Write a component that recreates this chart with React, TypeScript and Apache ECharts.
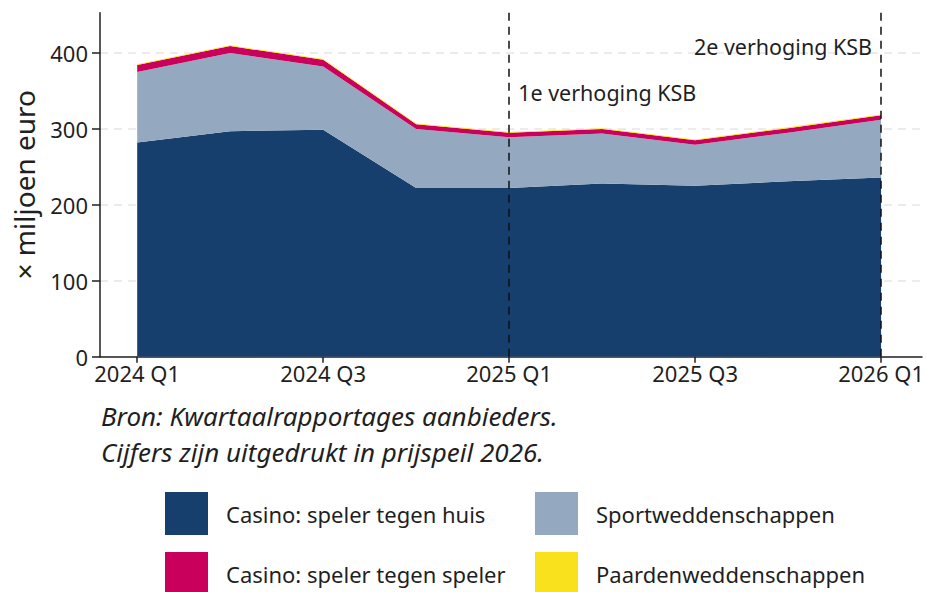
import React, { useEffect, useRef } from "react";
import * as echarts from "echarts";

const quarters = ["2024 Q1", "2024 Q2", "2024 Q3", "2024 Q4", "2025 Q1", "2025 Q2", "2025 Q3", "2025 Q4", "2026 Q1"];
const casinoHuis = [282, 297, 299, 222, 222, 228, 225, 231, 236];
const sportweddenschappen = [93, 103, 83, 78, 67, 66, 54, 64, 76];
const casinoSpeler = [9, 9, 9, 6, 6, 6, 6, 6, 6];
const paardenweddenschappen = [1, 1, 1, 1, 1, 1, 1, 1, 1];
const labelledQuarters = [0, 2, 4, 6, 8];
const yTicks = [0, 100, 200, 300, 400];
const annotations = [
  { name: "1e verhoging KSB", x: 4, y: 348, side: "right" },
  { name: "2e verhoging KSB", x: 8, y: 409, side: "left" },
];
const seriesNames = [
  "Casino: speler tegen huis",
  "Sportweddenschappen",
  "Casino: speler tegen speler",
  "Paardenweddenschappen",
];
const colors = ["#173f6e", "#94a9c0", "#ca005d", "#f9e11e"];
const sourceLines = ["Bron: Kwartaalrapportages aanbieders.", "Cijfers zijn uitgedrukt in prijspeil 2026."];

const FONT = "'Noto Sans', sans-serif";
const TXT = "#1f1f1f";

export default function App() {
  const ref = useRef<HTMLDivElement>(null);
  useEffect(() => {
    if (!ref.current) return;
    const chart = echarts.init(ref.current, undefined, { renderer: "svg" });
    const values = [casinoHuis, sportweddenschappen, casinoSpeler, paardenweddenschappen];
    const series: any[] = values.map((arr, k) => ({
      name: seriesNames[k],
      type: "line",
      stack: "total",
      symbol: "none",
      lineStyle: { width: 0 },
      areaStyle: { color: colors[k], opacity: 1 },
      itemStyle: { color: colors[k] },
      encode: { x: 1, y: 0 },
      data: arr.map((v, i) => [v, i]),
      z: 2,
    }));
    series.push({
      name: "annot",
      type: "line",
      data: [],
      markLine: {
        silent: true,
        symbol: ["none", "none"],
        label: { show: false },
        lineStyle: { color: "#111", width: 1.5, type: [8, 6] },
        data: annotations.map((a) => ({ xAxis: a.x })),
      },
      markPoint: {
        silent: true,
        symbol: "circle",
        symbolSize: 0,
        data: annotations.map((a) => ({
          coord: [a.x, a.y],
          label: {
            show: true,
            position: a.side,
            distance: 9,
            formatter: a.name,
            fontSize: 21.5,
            fontFamily: FONT,
            color: TXT,
          },
        })),
      },
      z: 5,
    });
    const legendBase = {
      orient: "vertical",
      top: 492,
      height: 200,
      padding: 0,
      itemWidth: 43,
      itemHeight: 43,
      itemGap: 17,
      icon: "rect",
      selectedMode: false,
      textStyle: { fontSize: 22, fontFamily: FONT, color: TXT, padding: [0, 0, 0, 13] },
    };
    chart.setOption({
      animation: false,
      backgroundColor: "#fff",
      grid: { left: 100, top: 12.7, right: 4, bottom: 235.3 },
      xAxis: {
        type: "value",
        min: -0.4,
        max: 8.44,
        splitLine: { show: false },
        axisLine: { onZero: false, lineStyle: { color: "#1f1f1f", width: 1.5 } },
        axisTick: { show: true, customValues: labelledQuarters, length: 6, lineStyle: { color: "#1f1f1f", width: 1.5 } },
        axisLabel: {
          customValues: labelledQuarters,
          formatter: (v: number) => quarters[Math.round(v)] ?? "",
          fontSize: 22,
          fontFamily: FONT,
          color: TXT,
          margin: 5,
        },
      },
      yAxis: {
        type: "value",
        min: 0,
        max: 453,
        interval: 100,
        name: "× miljoen euro",
        nameLocation: "middle",
        nameRotate: 90,
        nameGap: 62,
        nameTextStyle: { fontSize: 28, fontFamily: FONT, color: TXT },
        axisLine: { show: true, onZero: false, lineStyle: { color: "#1f1f1f", width: 1.5 } },
        axisTick: { show: true, customValues: yTicks, length: 8, lineStyle: { color: "#1f1f1f", width: 1.5 } },
        axisLabel: {
          customValues: yTicks,
          fontSize: 22,
          fontFamily: FONT,
          color: TXT,
          margin: 12,
        },
        splitLine: {
          show: true,
          lineStyle: {
            color: ["transparent", "#e6e6e6", "#e6e6e6", "#e6e6e6", "#e6e6e6", "transparent"],
            type: [8, 6],
            width: 1.5,
          },
        },
      },
      legend: [
        { ...legendBase, data: [seriesNames[0], seriesNames[2]], left: 165 },
        { ...legendBase, data: [seriesNames[1], seriesNames[3]], left: 535 },
      ],
      graphic: [
        {
          type: "text",
          left: 101,
          top: 398,
          style: {
            text: sourceLines.join("\n"),
            fontSize: 26,
            lineHeight: 36,
            fontStyle: "italic",
            fontFamily: FONT,
            fill: TXT,
          },
        },
      ],
      series,
    });
    return () => chart.dispose();
  }, []);
  return <div ref={ref} style={{ width: 927, height: 592, position: "absolute", left: 0, top: 0 }} />;
}
